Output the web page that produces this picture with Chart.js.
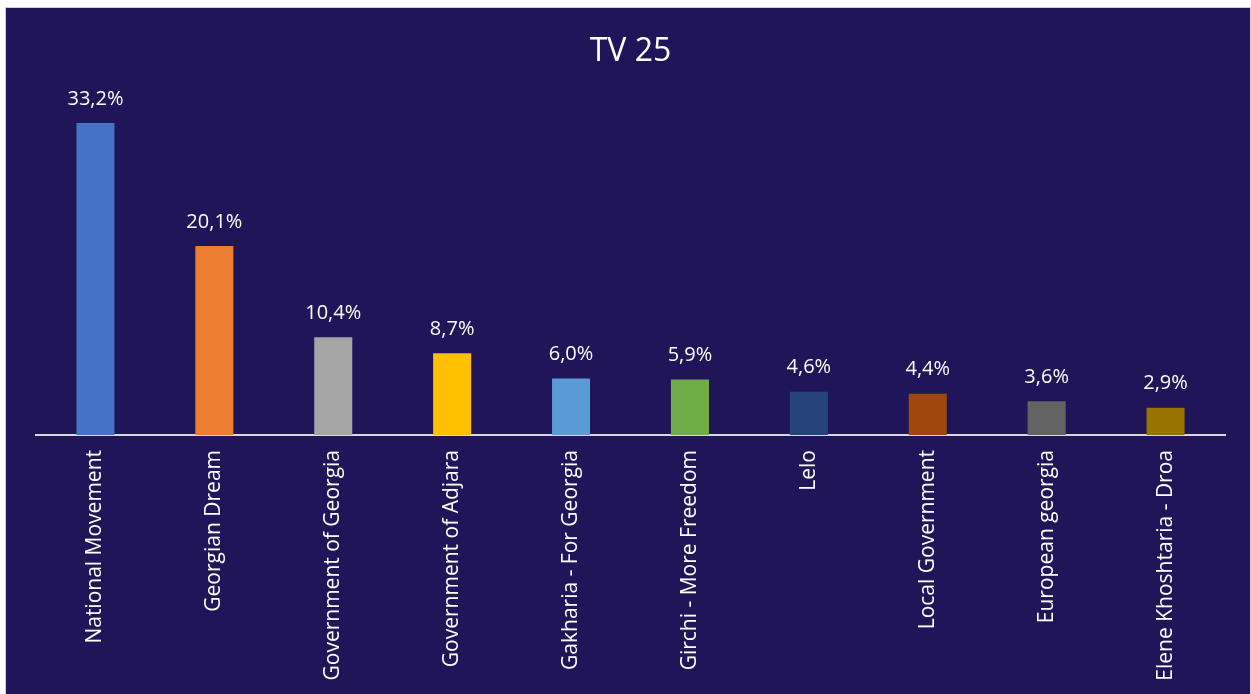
<!DOCTYPE html>
<html>
<head>
<meta charset="utf-8">
<script src="https://cdn.jsdelivr.net/npm/chart.js@4"></script>
<style>
  html, body { margin: 0; padding: 0; background: #ffffff; }
  #frame {
    position: absolute; left: 5px; top: 7px;
    width: 1244px; height: 686px;
    border: 1px solid #d0d0d0;
    background: #201558;
  }
</style>
</head>
<body>
<div id="frame"><canvas id="chart" width="1244" height="686"></canvas></div>
<script>
// Share of coverage per subject, TV 25
const categories = [
    'National Movement',
    'Georgian Dream',
    'Government of Georgia',
    'Government of Adjara',
    'Gakharia - For Georgia',
    'Girchi - More Freedom',
    'Lelo',
    'Local Government',
    'European georgia',
    'Elene Khoshtaria - Droa'
];
const values = [33.2, 20.1, 10.4, 8.7, 6.0, 5.9, 4.6, 4.4, 3.6, 2.9];
const barColors = ['#4472c4', '#ed7d31', '#a5a5a5', '#ffc000', '#5b9bd5',
                   '#70ad47', '#264478', '#9e480e', '#636363', '#997300'];

const FONT = "'Open Sans', 'Noto Sans', sans-serif";

// Title and value labels, drawn on top of the bars
const labelsPlugin = {
    id: 'labels',
    afterDatasetsDraw(chart) {
        const ctx = chart.ctx;
        ctx.save();
        ctx.fillStyle = '#ffffff';
        ctx.textAlign = 'center';
        ctx.textBaseline = 'middle';
        ctx.font = '32px ' + FONT;
        ctx.fillText('TV 25', (chart.chartArea.left + chart.chartArea.right) / 2, 44);

        ctx.font = '20px ' + FONT;
        chart.getDatasetMeta(0).data.forEach(function(bar, i) {
            const txt = values[i].toFixed(1).replace('.', ',') + '%';
            ctx.fillText(txt, bar.x, bar.y - 24);
        });
        ctx.restore();
    }
};

const ctx = document.getElementById('chart').getContext('2d');
new Chart(ctx, {
    type: 'bar',
    data: {
        labels: categories,
        datasets: [{
            data: values,
            backgroundColor: barColors,
            categoryPercentage: 1,
            barPercentage: 0.32
        }]
    },
    options: {
        responsive: false,
        animation: false,
        layout: {
            padding: { top: 98, left: 30, right: 25, bottom: 0 }
        },
        plugins: {
            legend: { display: false },
            title: { display: false },
            tooltip: { enabled: false }
        },
        scales: {
            y: {
                display: false,
                min: 0,
                max: 35
            },
            x: {
                grid: { display: false, drawTicks: false },
                border: { display: true, color: '#d9d9d9', width: 2 },
                ticks: {
                    color: '#ffffff',
                    font: { family: FONT, size: 21 },
                    minRotation: 90,
                    maxRotation: 90,
                    padding: 15,
                    autoSkip: false
                },
                afterFit(scale) {
                    scale.height = 259;
                }
            }
        }
    },
    plugins: [labelsPlugin]
});
</script>
</body>
</html>
